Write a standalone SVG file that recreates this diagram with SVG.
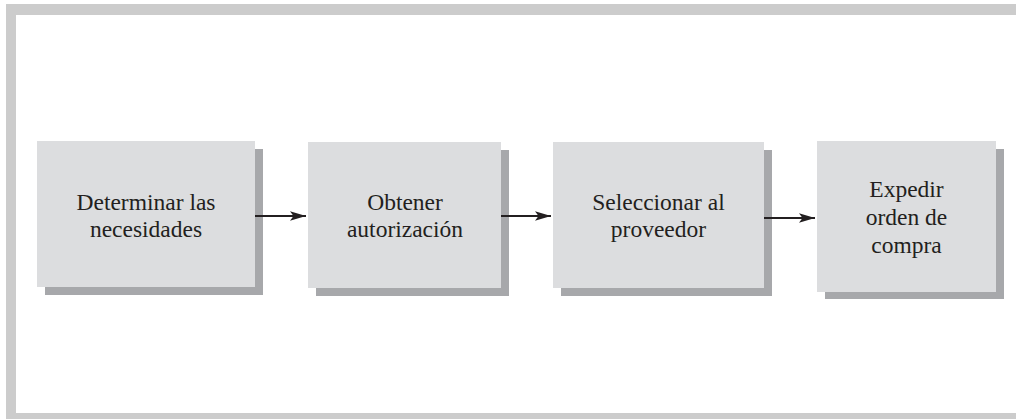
<svg xmlns="http://www.w3.org/2000/svg" width="1016" height="419" viewBox="0 0 1016 419">
  <style>
    .box { fill: #dcdddf; }
    .shadow { fill: #a7a8ab; }
    .lbl { font-family: "Liberation Serif", "Times New Roman", serif; font-size: 23.5px; fill: #231f20; text-anchor: middle; }
    .conn { stroke: #231f20; stroke-width: 2.2; fill: none; }
  </style>
  <defs>
    <marker id="ah" markerUnits="userSpaceOnUse" markerWidth="17" markerHeight="11" refX="16" refY="5.5" orient="auto">
      <path d="M0,0.8 L16,5.5 L0,10.2 L3.5,5.5 Z" fill="#231f20"/>
    </marker>
  </defs>
  <g id="frame">
    <rect x="6" y="4" width="1010" height="415" fill="#cccccc"/>
    <rect x="16" y="15" width="1000" height="398" fill="#ffffff"/>
  </g>
  <g id="node1">
    <rect class="shadow" x="45" y="149" width="218" height="146"/>
    <rect class="box" x="37" y="141" width="218" height="146"/>
    <text class="lbl" x="146" y="210">Determinar las</text>
    <text class="lbl" x="146" y="237">necesidades</text>
  </g>
  <g id="node2">
    <rect class="shadow" x="316" y="150" width="193" height="146"/>
    <rect class="box" x="308" y="142" width="193" height="146"/>
    <text class="lbl" x="405" y="210">Obtener</text>
    <text class="lbl" x="405" y="237">autorización</text>
  </g>
  <g id="node3">
    <rect class="shadow" x="561" y="150" width="211" height="146"/>
    <rect class="box" x="553" y="142" width="211" height="146"/>
    <text class="lbl" x="658.5" y="210">Seleccionar al</text>
    <text class="lbl" x="658.5" y="237">proveedor</text>
  </g>
  <g id="node4">
    <rect class="shadow" x="825" y="149" width="179" height="150"/>
    <rect class="box" x="817" y="141" width="179" height="151"/>
    <text class="lbl" x="906.5" y="197">Expedir</text>
    <text class="lbl" x="906.5" y="225">orden de</text>
    <text class="lbl" x="906.5" y="253">compra</text>
  </g>
  <g id="connectors">
    <line class="conn" x1="255" y1="216" x2="306" y2="216" marker-end="url(#ah)"/>
    <line class="conn" x1="501" y1="216" x2="551" y2="216" marker-end="url(#ah)"/>
    <line class="conn" x1="764" y1="218" x2="815" y2="218" marker-end="url(#ah)"/>
  </g>
</svg>
